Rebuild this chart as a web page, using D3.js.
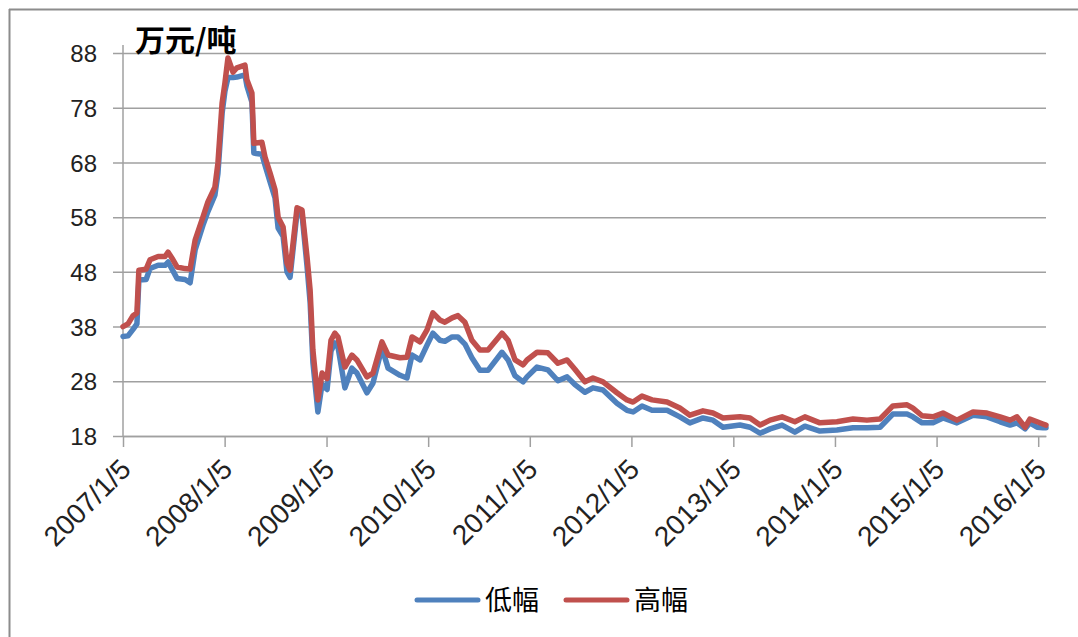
<!DOCTYPE html>
<html><head><meta charset="utf-8">
<script src="https://cdn.jsdelivr.net/npm/d3@7/dist/d3.min.js"></script>
<style>
html,body{margin:0;padding:0;background:#fff;}
svg{display:block;}
</style></head>
<body>
<svg id="chart" width="1078" height="637"></svg>
<script>
// ---- data ----
const dates = ["2007-01-05","2007-01-23","2007-02-10","2007-02-24","2007-03-03","2007-03-29","2007-04-12","2007-05-11","2007-06-05","2007-06-16","2007-06-30","2007-07-18","2007-08-16","2007-09-03","2007-09-21","2007-10-19","2007-11-06","2007-12-01","2007-12-12","2007-12-27","2008-01-06","2008-01-17","2008-02-04","2008-02-18","2008-03-18","2008-03-25","2008-04-12","2008-04-19","2008-05-18","2008-05-29","2008-06-16","2008-07-04","2008-07-15","2008-08-02","2008-08-16","2008-08-27","2008-09-21","2008-10-09","2008-10-27","2008-11-07","2008-11-17","2008-12-05","2008-12-20","2009-01-07","2009-01-21","2009-02-04","2009-02-15","2009-03-12","2009-04-06","2009-04-24","2009-05-30","2009-06-21","2009-07-23","2009-08-14","2009-09-26","2009-10-21","2009-11-08","2009-12-07","2010-01-01","2010-01-22","2010-02-16","2010-03-06","2010-04-01","2010-04-22","2010-05-17","2010-06-11","2010-07-10","2010-08-08","2010-09-27","2010-10-19","2010-11-13","2010-12-12","2010-12-26","2011-01-31","2011-03-11","2011-04-16","2011-05-19","2011-06-16","2011-07-22","2011-08-20","2011-09-25","2011-11-14","2011-12-20","2012-01-11","2012-02-12","2012-03-19","2012-05-12","2012-06-27","2012-08-02","2012-09-18","2012-10-24","2012-11-29","2013-01-29","2013-03-06","2013-04-11","2013-05-17","2013-06-29","2013-08-14","2013-09-19","2013-11-12","2014-01-12","2014-03-11","2014-04-30","2014-06-16","2014-07-11","2014-08-01","2014-09-21","2014-10-12","2014-11-14","2014-12-23","2015-01-28","2015-03-19","2015-05-16","2015-07-05","2015-08-21","2015-09-26","2015-10-21","2015-11-19","2015-12-06","2016-01-01","2016-01-22","2016-02-02"];
const lowValues = [36.2,36.3,37.5,38.5,46.5,46.6,48.6,49.2,49.2,49.8,48.5,46.8,46.6,46.0,52.0,56.5,59.0,62.0,66.0,77.0,81.0,83.5,83.5,83.6,84.0,82.0,79.0,69.7,69.5,67.5,64.5,61.5,56.0,54.5,48.0,47.0,58.8,58.5,49.0,42.5,31.5,22.4,27.5,26.5,33.5,35.0,34.3,26.8,30.4,29.5,25.9,27.7,34.1,30.4,29.1,28.6,32.8,31.9,34.6,36.8,35.5,35.3,36.1,36.1,34.8,32.3,30.0,30.0,33.3,31.9,29.0,27.9,28.8,30.6,30.1,28.1,28.8,27.4,26.0,26.8,26.4,24.0,22.7,22.4,23.5,22.7,22.7,21.5,20.4,21.3,20.9,19.6,20.0,19.6,18.5,19.3,20.0,18.7,19.8,18.9,19.1,19.5,19.5,19.6,20.9,22.0,22.0,21.5,20.4,20.4,21.3,20.4,21.8,21.5,20.6,20.0,20.4,19.3,20.4,19.6,19.5,19.5];
const highValues = [38.0,38.5,40.0,40.5,48.3,48.5,50.2,50.8,50.8,51.6,50.5,48.9,48.6,48.5,53.8,58.0,60.8,63.5,67.9,78.9,82.5,87.1,84.5,85.3,85.8,83.1,80.7,71.5,71.7,69.0,66.1,63.0,58.0,56.2,49.6,48.3,59.7,59.3,50.7,44.7,33.7,24.6,29.5,28.5,35.5,36.8,36.1,30.6,32.8,31.9,28.8,29.5,35.2,32.8,32.3,32.4,36.1,35.2,37.4,40.5,39.2,38.8,39.6,40.0,38.8,35.5,33.7,33.7,36.8,35.5,31.9,31.0,31.9,33.3,33.2,31.3,31.9,30.2,27.9,28.6,27.9,25.9,24.6,24.2,25.3,24.6,24.2,23.1,21.8,22.6,22.2,21.3,21.5,21.3,20.0,20.9,21.5,20.6,21.5,20.4,20.6,21.1,20.9,21.1,22.4,23.5,23.7,23.1,21.7,21.5,22.2,20.9,22.4,22.2,21.5,20.9,21.5,19.6,21.1,20.6,20.2,20.0];
const seriesNames = ["低幅","高幅"];
const seriesColors = ["#4F81BD","#C0504D"];
const yTicks = [18,28,38,48,58,68,78,88];
const xTickDates = ["2007-01-05","2008-01-05","2009-01-05","2010-01-05","2011-01-05","2012-01-05","2013-01-05","2014-01-05","2015-01-05","2016-01-05"];
const unitLabel = "万元/吨";

// ---- drawing ----
const parse = d3.timeParse("%Y-%m-%d");
const fmt = d3.timeFormat("%Y/%-m/%-d");
const svg = d3.select("#chart");
const W = 1078, H = 637;
const plot = {left:123, right:1046, top:53, bottom:436};

const x = d3.scaleTime()
  .domain([parse(dates[0]), parse(dates[dates.length-1])])
  .range([plot.left, plot.right]);
const y = d3.scaleLinear().domain([18, 88]).range([plot.bottom, plot.top]);

// outer frame
svg.append("line").attr("x1",9).attr("y1",9.5).attr("x2",W).attr("y2",9.5)
  .attr("stroke","#8c8c8c").attr("stroke-width",2);
svg.append("line").attr("x1",9.5).attr("y1",9).attr("x2",9.5).attr("y2",H)
  .attr("stroke","#8c8c8c").attr("stroke-width",2);

const gridColor = "#a0a0a0";
// y axis with gridlines
const yAxis = d3.axisLeft(y).tickValues(yTicks).tickSize(-(plot.right-plot.left)).tickSizeOuter(0).tickPadding(0);
const gy = svg.append("g").attr("transform",`translate(${plot.left},0)`).call(yAxis);
gy.select(".domain").remove();
gy.selectAll(".tick line").attr("stroke",gridColor).attr("stroke-width",1.5)
  .attr("x1",-10);
gy.selectAll(".tick text")
  .attr("x",-26).attr("dy","0.36em")
  .attr("font-family","'Liberation Sans', Arial, sans-serif")
  .attr("font-size",24).attr("fill","#222");
svg.append("line").attr("x1",plot.left).attr("x2",plot.left)
  .attr("y1",plot.top-8).attr("y2",plot.bottom)
  .attr("stroke",gridColor).attr("stroke-width",1.5);

// x axis
const xAxis = d3.axisBottom(x).tickValues(xTickDates.map(parse)).tickFormat(fmt)
  .tickSize(11).tickSizeOuter(0);
const gx = svg.append("g").attr("transform",`translate(0,${plot.bottom})`).call(xAxis);
gx.select(".domain").attr("stroke",gridColor).attr("stroke-width",1.5);
gx.selectAll(".tick line").attr("stroke",gridColor).attr("stroke-width",1.5);
gx.selectAll(".tick text")
  .attr("font-family","'Liberation Sans', Arial, sans-serif")
  .attr("font-size",28).attr("fill","#222")
  .attr("text-anchor","end").attr("y",0).attr("dy",0)
  .attr("transform","translate(9,35) rotate(-45)");

// lines
const seriesData = [lowValues, highValues];
const line = d3.line()
  .x((d,i)=>x(parse(dates[i])))
  .y(d=>y(d));
seriesData.forEach((vals,k)=>{
  svg.append("path").datum(vals)
    .attr("d",line)
    .attr("fill","none")
    .attr("stroke",seriesColors[k])
    .attr("stroke-width",5.5)
    .attr("stroke-linejoin","round")
    .attr("stroke-linecap","round");
});

// unit label
svg.append("text").attr("x",135).attr("y",51)
  .attr("font-family","'Noto Sans CJK SC', sans-serif")
  .attr("font-weight","bold").attr("font-size",30).attr("fill","#000")
  .text(unitLabel);

// legend
const legend = svg.append("g");
const legendX = [417, 566];
seriesNames.forEach((name,k)=>{
  const g = legend.append("g").attr("transform",`translate(${legendX[k]},600)`);
  g.append("line").attr("x1",0).attr("x2",61).attr("y1",0).attr("y2",0)
    .attr("stroke",seriesColors[k]).attr("stroke-width",5).attr("stroke-linecap","round");
  g.append("text").attr("x",68).attr("y",10)
    .attr("font-family","'Noto Sans CJK SC', sans-serif")
    .attr("font-size",27).attr("fill","#000").text(name);
});
</script>
</body></html>
